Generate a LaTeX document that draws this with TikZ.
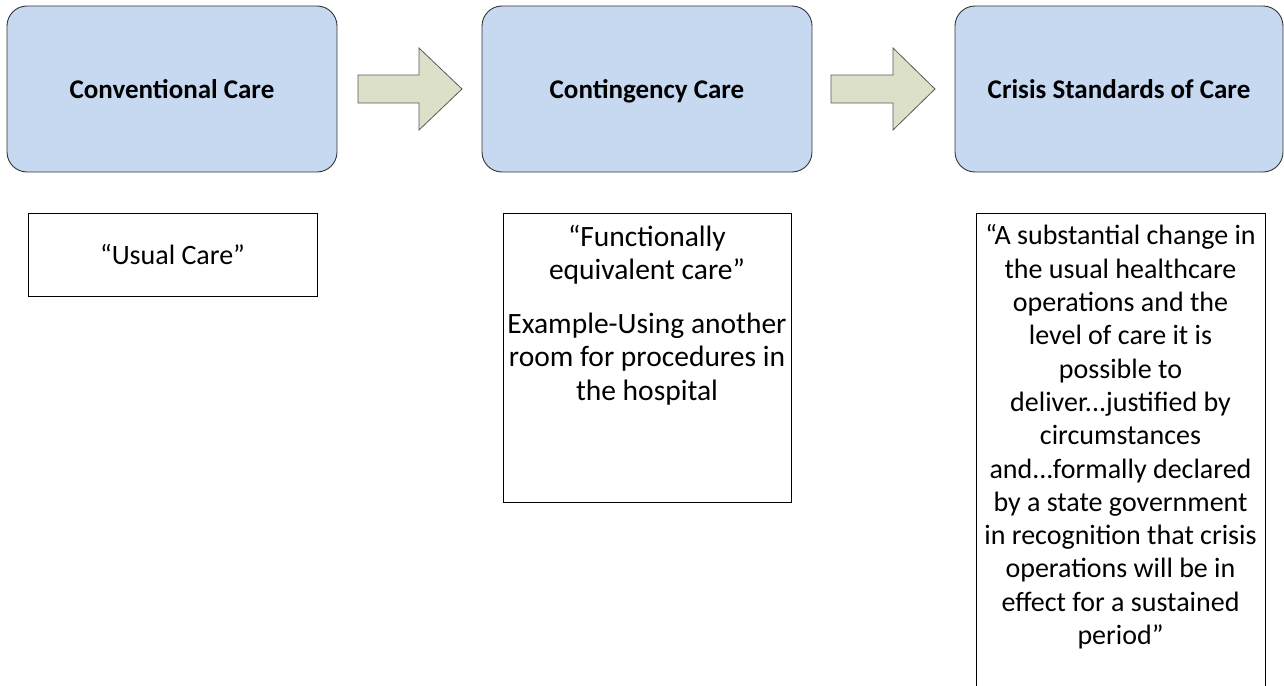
\documentclass[tikz,border=0pt]{standalone}
\usepackage{fontspec}
\setmainfont{Carlito}
\begin{document}
\begin{tikzpicture}[x=1pt,y=-1pt,
  stage/.style={draw=black!80,line width=0.9pt,fill=stagefill,rounded corners=20pt,
    minimum width=330pt,minimum height=166pt,inner sep=0pt},
  stagelabel/.style={font=\fontsize{27}{33.5}\selectfont\bfseries,text height=18pt,text depth=0pt,inner sep=0pt},
  notebox/.style={draw=black,line width=0.9pt,inner sep=0pt},
  notetext/.style={font=\fontsize{28}{33.3}\selectfont,align=center,inner sep=0pt},
  blockarrow/.style={draw=black!65,line width=0.8pt,fill=arrowfill}]
\definecolor{stagefill}{HTML}{C6D9F1}
\definecolor{arrowfill}{HTML}{DDE0C8}
\clip (0,0) rectangle (1284,685);

% stage boxes
\node[stage] (conv) at (172,89) {};
\node[stage] (cont) at (647,89) {};
\node[stage,minimum width=328pt] (crisis) at (1119,89) {};
\node[stagelabel] (convl) at (conv.center) {Conventional Care};
\node[stagelabel] (contl) at (cont.center) {Contingency Care};
\node[stagelabel] (crisisl) at (crisis.center) {Crisis Standards of Care};

% block arrows between stages
\draw[blockarrow] (358,75) -- (419,75) -- (419,48) -- (462,89) -- (419,130) -- (419,103) -- (358,103) -- cycle;
\draw[blockarrow] (831,75) -- (893,75) -- (893,48) -- (935,89) -- (893,130) -- (893,103) -- (831,103) -- cycle;

% description boxes
\node[notebox,minimum width=289pt,minimum height=83pt] (usual) at (172.5,254.5) {};
\node[notebox,minimum width=288pt,minimum height=289pt] (func) at (647,357.5) {};
\node[notebox,minimum width=289pt,minimum height=560pt] (sub) at (1120.5,493) {};

\node[notetext] (usualt) at (usual.center) {“Usual Care”};
\node[notetext,font=\fontsize{29.5}{33.3}\selectfont,anchor=north] (funct) at (647,225) {“Functionally\\equivalent care”\\[20.5pt]Example-Using another\\room for procedures in\\the hospital};
\node[notetext,anchor=north] (subt) at (1120.5,224.5) {“A substantial change in\\the usual healthcare\\operations and the\\level of care it is\\possible to\\deliver...justified by\\circumstances\\and...formally declared\\by a state government\\in recognition that crisis\\operations will be in\\effect for a sustained\\period”};
\end{tikzpicture}
\end{document}
